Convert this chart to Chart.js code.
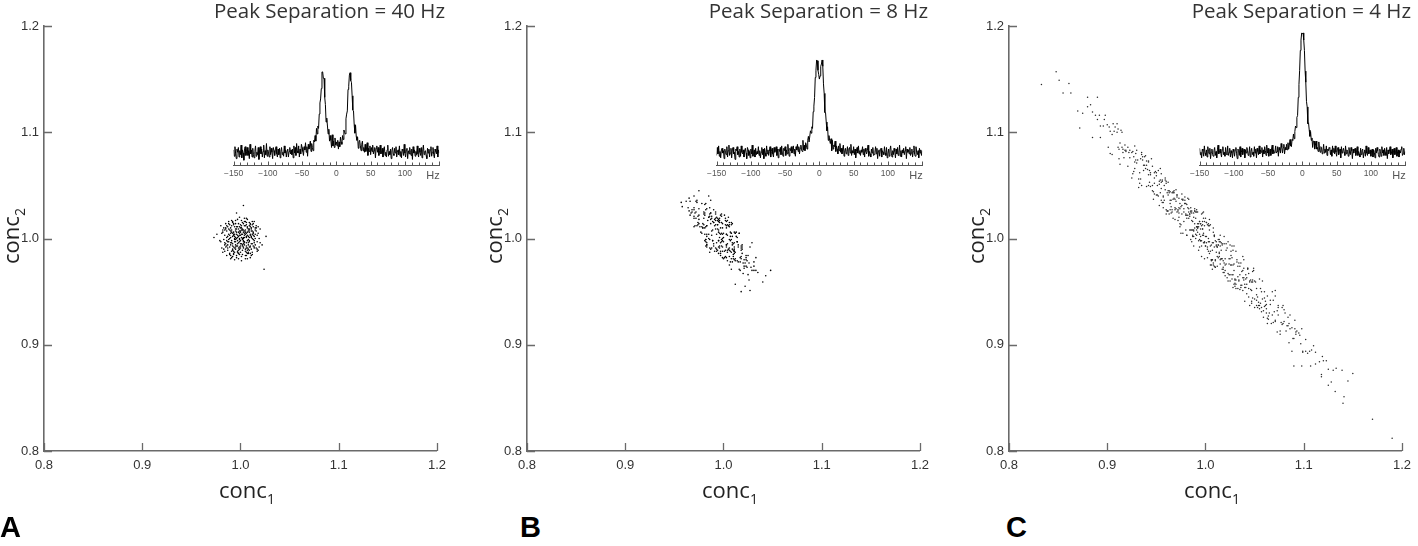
<!DOCTYPE html>
<html><head><meta charset="utf-8">
<script src="https://cdn.jsdelivr.net/npm/chart.js@4.4.1/dist/chart.umd.min.js"></script>
<style>
html,body{margin:0;padding:0;background:#fff}
body{width:1418px;height:546px;position:relative;overflow:hidden}
canvas{position:absolute}
.ttl{position:absolute;top:0;font-family:'Open Sans',sans-serif;font-size:20.5px;line-height:20px;color:#333;white-space:nowrap}
.axt{position:absolute;width:120px;text-align:center;font-family:'Open Sans',sans-serif;font-size:22px;color:#222;white-space:nowrap}
.sub{font-size:14px;position:relative;top:6px}
.let{position:absolute;top:513px;font-family:'Liberation Sans',Arial,sans-serif;font-weight:bold;font-size:29px;line-height:29px;color:#000}
</style>
</head><body>
<script>
// ---------------- data ----------------
const concTicks=[0.8,0.9,1.0,1.1,1.2];
const titles=['Peak Separation = 40 Hz','Peak Separation = 8 Hz','Peak Separation = 4 Hz'];
const panelLetters=['A','B','C'];

const conc1A=[1.003,0.992,1.012,0.998,1.006,0.985,1.001,1.009,0.995,0.989,
1.004,0.999,1.014,0.993,1.002,1.018,0.987,1.007,0.996,1.000,
1.010,0.991,1.005,0.983,1.011,0.997,1.008,0.994,1.003,0.988,
1.016,0.999,1.006,0.990,1.013,0.995,1.002,0.980,1.009,0.998,
1.004,0.986,1.007,0.992,1.012,1.000,0.996,1.019,0.989,1.005,
0.993,1.001,1.015,0.997,1.008,0.984,1.003,1.010,0.991,0.999,
1.006,0.987,1.011,0.995,1.002,0.982,1.014,0.998,1.007,0.990,
1.004,0.994,1.009,0.985,1.017,1.000,0.992,1.012,0.996,1.005,
0.988,1.003,1.008,0.999,0.981,1.013,0.994,1.001,1.010,0.991,
1.022,0.997,1.006,0.986,1.002,0.993,1.015,0.998,1.007,0.989,
1.004,0.995,1.011,0.984,1.009,1.000,0.992,1.018,0.996,1.003,
0.976,1.006,0.990,1.013,0.999,1.008,0.987,1.001,1.016,0.994,
1.005,0.997,1.010,0.983,1.002,0.991,1.014,0.995,1.007,0.988,
1.020,0.998,1.004,0.993,1.012,0.985,1.009,1.000,0.989,1.006,
0.996,1.003,1.017,0.992,1.001,0.986,1.011,0.994,1.005,0.980,
1.008,0.999,1.013,0.990,1.002,0.995,1.015,0.997,1.007,0.988,
1.010,0.993,1.004,0.984,1.019,1.000,0.991,1.006,0.998,1.012,
0.987,1.003,0.994,1.009,0.982,1.014,0.996,1.001,0.990,1.007,
1.005,0.985,1.011,0.999,1.016,0.992,1.002,0.989,1.008,0.997,
1.026,0.995,1.004,0.986,1.010,0.998,1.013,0.991,1.006,0.993,
1.003,0.988,1.009,1.000,0.994,1.017,0.981,1.005,0.997,1.011,
0.992,1.001,1.014,0.990,1.007,0.996,1.012,0.984,1.002,0.999,
1.008,0.987,1.006,0.995,1.015,0.991,1.003,0.998,1.010,0.986,
1.004,0.993,1.018,0.989,1.009,1.000,0.983,1.012,0.997,1.005,
0.994,1.013,0.999,1.007,0.988,1.002,0.992,1.011,0.979,1.004,
1.016,0.996,1.006,0.990,1.001,0.985,1.009,0.998,1.014,0.993,
1.003,0.991,1.020,0.995,1.008,0.987,1.000,1.010,0.982,1.005,
0.999,1.012,0.994,1.007,0.989,1.002,1.015,0.997,0.992,1.011,
0.986,1.006,1.001,0.996,1.017,0.990,1.004,0.993,1.009,0.998,
0.973,1.013,0.995,1.008,1.000,0.984,1.010,0.999,1.003,1.024];
const conc2A=[0.995,1.002,1.007,0.986,1.001,1.009,1.004,0.989,0.997,1.013,
1.016,0.992,0.998,1.006,0.999,1.005,0.994,1.010,0.982,1.003,
0.993,0.988,1.008,0.999,1.002,1.011,0.996,0.991,1.014,1.004,
0.991,1.000,0.984,0.996,1.011,1.007,0.994,0.997,1.006,0.989,
1.019,1.001,0.998,1.015,0.987,0.995,1.009,1.000,0.992,0.981,
1.003,1.012,1.004,0.993,0.990,1.008,1.001,1.013,0.998,0.985,
1.005,0.989,0.995,1.017,1.008,1.006,0.992,1.002,0.986,1.010,
0.997,0.980,1.009,0.995,1.003,0.991,1.005,1.016,1.000,0.988,
1.014,0.992,1.002,1.007,0.991,0.999,1.011,0.983,1.004,1.006,
0.994,1.003,0.987,1.012,1.009,0.986,1.008,0.996,1.018,1.000,
0.994,1.001,1.010,0.988,0.997,1.013,0.993,0.989,1.006,0.998,
1.004,1.015,0.984,1.005,0.990,1.007,1.002,0.979,1.012,0.999,
1.004,0.987,0.992,1.010,1.000,1.017,0.996,0.994,1.011,0.997,
1.009,0.991,1.003,1.014,0.985,0.992,1.001,0.998,1.008,0.993,
1.024,1.006,0.988,0.983,1.010,0.998,1.007,1.004,0.984,1.012,
0.999,1.005,1.014,0.994,0.989,1.009,0.994,1.001,0.991,1.016,
1.003,0.988,1.012,1.003,0.992,1.007,0.996,1.019,0.986,1.000,
0.991,1.008,0.997,1.015,0.987,1.002,1.011,0.995,1.005,0.981,
1.006,1.014,0.990,0.999,1.010,0.990,1.004,0.985,0.994,1.018,
1.002,0.992,1.001,1.007,0.986,1.009,1.006,0.982,0.996,1.013,
0.991,0.999,1.012,0.987,1.002,0.997,1.005,1.016,0.995,1.009,
0.989,1.008,0.991,1.001,1.003,0.984,1.013,0.996,0.993,1.020,
0.987,1.011,1.002,0.990,1.000,1.008,0.997,1.014,0.982,0.993,
1.007,1.004,1.011,0.986,0.998,1.010,0.990,1.004,0.988,1.012,
1.000,0.993,1.003,0.989,1.009,1.015,0.995,0.984,0.998,1.005,
1.007,0.993,1.013,0.981,1.001,1.010,0.992,1.006,1.016,0.985,
1.000,1.012,0.996,0.999,1.009,0.997,0.993,1.014,1.008,0.990,
1.011,0.995,0.987,1.006,1.003,0.985,1.010,0.998,1.016,1.001,
0.984,0.991,1.017,1.004,0.990,1.007,0.996,0.992,1.008,0.981,
1.001,1.003,1.014,0.986,1.006,0.994,1.011,0.997,1.031,0.971];

const conc1B=[1.006,0.979,1.021,1.003,1.005,0.970,1.003,1.011,0.996,0.968,
1.007,0.994,0.997,0.998,1.031,0.975,0.999,1.006,0.985,1.001,
0.995,1.014,0.995,0.988,0.972,1.019,0.983,0.996,1.022,1.002,
1.004,0.986,0.999,0.989,1.009,1.008,1.029,0.988,0.995,0.975,
0.995,1.003,0.997,1.017,0.990,1.002,0.986,0.966,1.010,1.008,
1.023,0.992,0.990,1.005,1.011,0.970,1.019,0.982,0.992,1.003,
1.005,1.004,0.970,1.018,0.983,1.004,1.008,0.981,0.999,0.998,
1.006,1.006,0.985,1.021,0.993,0.994,0.992,1.026,0.982,0.999,
0.995,1.006,0.995,1.003,0.970,1.014,1.009,0.982,1.028,0.973,
1.014,0.988,0.995,0.973,1.010,0.983,1.023,0.992,0.993,1.019,
0.975,1.009,1.006,1.002,0.991,1.024,0.986,0.986,0.999,1.012,
1.007,0.972,1.004,0.990,1.016,0.989,0.980,1.023,0.982,1.014,
0.983,1.007,1.031,0.983,1.011,0.980,1.008,0.996,0.995,0.970,
1.027,0.988,0.991,1.004,0.990,0.965,1.007,0.987,1.017,1.004,
0.997,0.987,0.998,0.996,1.015,0.987,0.993,0.997,1.015,0.974,
0.994,1.020,1.002,1.006,0.984,0.991,0.978,1.010,0.998,1.003,
1.016,0.999,0.981,0.997,0.998,1.011,0.973,0.997,0.986,1.023,
0.987,1.013,1.011,0.987,0.987,0.992,1.006,0.982,1.010,0.989,
1.008,0.979,1.026,0.985,1.009,1.005,0.977,1.008,0.957,1.029,
0.982,1.015,0.974,1.000,1.019,0.981,1.016,0.993,1.031,0.980,
1.009,0.971,1.011,0.967,0.996,1.025,0.983,1.011,1.003,0.998,
0.979,1.018,0.983,0.994,1.007,0.964,1.018,0.982,1.014,0.998,
1.033,0.989,1.003,0.974,1.008,1.004,0.972,1.009,0.978,1.018,
0.995,0.981,1.018,0.983,1.012,0.978,1.033,0.994,1.000,0.985,
0.986,1.000,1.000,1.024,0.981,1.013,0.968,0.996,1.001,1.012,
0.997,0.996,0.983,1.012,1.002,0.992,0.988,1.020,0.975,1.010,
0.990,1.025,0.981,1.012,0.971,1.011,1.003,0.976,1.017,0.999,
1.011,0.992,1.001,0.980,0.993,0.994,1.021,1.008,0.965,0.999,
0.962,0.975,0.985,0.958,0.970,1.048,1.040,1.027,1.018,1.022,1.043,1.035,0.966,1.012];
const conc2B=[0.999,1.010,0.980,1.012,0.990,1.011,1.004,0.988,1.015,1.025,
0.978,1.009,1.022,0.993,0.978,1.022,0.988,1.011,1.020,0.982,
1.006,0.979,1.016,0.991,1.035,0.994,1.012,0.993,0.977,1.019,
0.987,1.029,0.998,1.016,0.978,1.015,0.970,1.021,0.986,1.028,
1.016,0.982,1.010,0.978,1.027,0.989,0.991,1.035,0.983,1.005,
0.974,1.017,0.993,1.020,0.992,1.019,0.986,0.993,1.023,0.992,
1.012,0.989,1.029,0.993,1.002,1.003,0.971,1.022,0.992,1.021,
0.983,1.015,1.020,0.974,1.020,0.989,1.009,0.961,1.027,1.000,
1.008,0.975,1.018,0.994,1.021,0.997,1.014,1.011,0.973,1.012,
1.001,1.007,0.992,1.034,0.989,0.994,0.982,1.025,0.996,0.990,
1.018,1.002,1.013,0.983,1.012,0.973,1.021,0.987,1.014,0.979,
1.002,1.025,0.979,1.015,1.005,0.998,1.019,0.980,0.999,0.997,
1.012,1.006,0.970,0.996,0.996,1.025,0.981,1.019,0.998,1.027,
0.992,1.003,1.018,0.995,0.995,1.038,0.988,1.024,0.970,1.013,
0.986,1.018,0.999,1.017,0.978,1.036,0.988,1.004,0.992,1.015,
1.013,0.967,1.013,0.989,1.017,0.988,1.033,0.981,1.023,0.994,
0.971,1.004,1.024,0.984,1.015,0.988,1.036,0.996,0.999,0.984,
1.014,1.006,0.980,1.024,0.990,1.013,0.991,1.033,0.985,0.998,
1.005,1.014,0.977,1.004,0.990,1.012,1.006,0.999,1.034,0.996,
0.997,0.994,1.021,1.001,0.992,1.004,1.005,1.004,0.974,1.013,
0.994,1.012,1.006,1.024,1.001,0.984,1.004,0.988,1.016,0.997,
1.010,0.989,0.992,1.019,0.998,1.029,0.983,0.999,0.997,1.005,
0.982,1.008,1.004,1.013,0.987,1.017,1.019,0.996,1.005,0.991,
0.998,1.032,0.981,0.994,1.005,1.011,0.970,1.017,0.997,1.000,
1.023,0.981,1.005,0.979,1.010,1.002,1.027,0.991,1.022,0.987,
0.988,1.005,1.028,0.981,1.017,0.991,1.019,0.977,1.014,0.995,
1.015,0.966,0.998,1.005,1.024,0.990,1.010,1.011,0.982,1.010,
0.986,1.019,0.988,1.023,0.990,1.013,0.972,1.013,1.026,0.982,
1.035,1.045,1.040,1.030,1.040,0.970,0.959,0.951,0.950,0.955,0.965,0.968,1.022,0.957];

const conc1C=[1.012,0.955,1.078,0.992,1.033,0.933,1.004,1.051,0.978,0.910,
1.027,0.986,1.060,0.962,1.002,1.095,0.945,1.019,0.997,0.929,
1.041,0.971,1.008,0.896,1.066,0.989,1.023,0.952,1.085,0.994,
0.967,1.014,0.918,1.047,1.000,0.981,1.112,0.940,1.030,0.998,
1.057,0.959,1.009,0.975,1.073,0.993,1.036,0.880,1.018,0.948,
0.984,1.064,0.964,1.003,1.089,0.926,1.025,0.991,1.044,0.972,
1.006,0.937,1.099,0.987,1.038,0.956,1.015,0.912,1.070,0.999,
0.980,1.052,0.995,1.031,0.903,1.080,0.969,1.010,0.943,1.048,
1.001,0.976,1.067,0.931,1.021,0.988,1.108,0.960,1.034,0.916,
1.059,0.996,1.016,0.950,1.076,0.965,1.005,0.985,1.093,0.935,
1.028,0.973,1.045,0.921,1.011,0.990,1.055,0.954,1.132,0.982,
0.998,1.039,0.942,1.020,0.890,1.062,0.970,1.007,0.963,1.083,
1.013,0.947,1.029,0.994,1.071,0.913,1.042,0.979,1.003,0.957,
1.102,0.984,1.049,0.932,1.024,0.968,1.008,0.925,1.061,0.988,
1.035,0.999,0.953,1.088,0.977,1.017,0.907,1.054,0.992,1.026,
0.961,1.074,0.986,1.000,0.939,1.043,0.972,1.116,0.995,1.032,
0.923,1.010,1.058,0.966,1.019,0.951,1.091,0.981,1.006,0.900,
1.046,0.991,1.025,0.944,1.069,0.974,1.014,0.958,1.082,0.997,
0.936,1.037,0.989,1.052,0.914,1.022,0.963,1.004,1.125,0.946,
1.017,0.970,1.063,0.985,1.040,0.928,1.009,0.993,1.048,0.954,
1.086,0.976,1.031,0.941,1.002,0.885,1.053,0.982,1.027,0.996,
0.964,1.068,0.990,1.044,0.919,1.015,1.096,0.971,1.007,0.948,
1.021,0.934,1.034,0.998,1.079,0.960,1.012,0.905,1.057,0.987,
0.977,1.005,1.106,0.955,1.030,0.992,1.065,0.930,1.018,0.967,
1.050,0.983,1.001,0.911,1.038,0.975,1.074,0.996,1.023,0.942,
1.011,0.957,1.084,0.979,1.042,0.938,1.006,0.988,1.139,0.965,
1.029,0.994,1.056,0.922,1.015,0.969,1.047,0.950,1.000,1.092,
0.980,1.036,0.927,1.020,1.062,0.985,1.033,0.902,1.009,0.959,
1.071,0.973,1.004,0.946,1.026,0.991,1.119,0.962,1.041,0.935,
0.997,1.055,0.968,1.013,0.915,1.048,0.981,1.008,0.940,1.077,
1.024,0.953,1.016,0.989,1.099,0.974,1.039,0.928,1.003,0.986,
1.060,0.961,1.010,0.893,1.045,0.995,1.028,0.947,1.090,0.978,
0.833,0.848,0.851,0.855,0.861,0.863,0.870,0.872,0.883,0.885,
0.888,0.890,0.892,0.898,1.190,1.170,1.140,1.141,1.150,1.130,
1.125,1.120,1.118,1.090,1.098,
0.969,1.018,0.928,1.044,0.995,1.063,0.983,1.009,0.952,1.027,
1.085,0.961,1.002,0.939,1.036,0.988,1.071,0.974,1.014,0.910,
1.005,0.946,1.040,0.992,0.967,1.097,0.980,1.058,0.997,0.957,
1.022,0.933,1.011,0.985,1.049,0.919,1.030,0.999,0.963,1.066,
0.990,1.079,0.955,1.007,0.976,1.052,0.942,1.016,1.104,0.971,
1.038,0.994,0.923,1.025,0.986,1.060,0.960,1.003,0.908,1.047,
0.981,1.013,0.950,1.088,0.998,1.031,0.935,1.020,0.991,1.055,
1.001,0.966,1.074,0.977,1.042,0.989,0.916,1.035,0.954,1.010,
1.068,0.972,1.006,0.944,1.017,0.996,1.092,0.959,1.028,0.930,
0.987,1.050,0.969,1.008,0.901,1.039,0.982,1.062,0.993,1.023,
1.045,0.936,0.999,1.015,0.973,1.081,0.948,1.004,1.033,0.984,
0.917,1.026,0.991,1.057,0.962,1.012,0.979,1.073,0.956,1.000,
1.019,0.925,1.037,0.988,1.064,0.995,0.970,1.048,0.940,1.007,
0.965,1.110,0.997,1.029,0.951,1.014,0.913,1.041,0.980,1.053,
1.009,0.958,1.024,0.932,1.003,1.078,0.985,0.944,1.031,0.992,
1.059,0.978,1.016,0.964,1.091,0.989,0.926,1.020,0.999,1.043,
0.974,1.006,0.942,1.034,0.987,1.069,0.955,1.011,0.905,1.027,
1.040,0.983,0.996,1.052,0.968,1.018,0.937,1.084,0.990,1.002,
0.949,1.030,0.993,1.061,0.976,1.010,0.962,1.047,0.929,1.015,
1.076,0.997,0.956,1.021,0.984,1.035,0.911,1.005,1.056,0.971,
0.992,1.043,0.934,1.013,1.028,0.948,1.001,1.098,0.966,1.019,
1.032,0.988,1.071,0.960,1.007,0.921,1.025,0.979,1.050,0.998,
0.943,1.017,0.973,1.039,0.994,1.086,0.953,1.012,0.983,1.063,
1.004,0.964,0.918,1.026,0.986,1.046,0.991,0.938,1.038,0.975,
1.054,0.981,1.008,0.957,1.080,0.967,1.014,0.995,1.029,0.927,
0.875,0.880,0.893,0.897,0.903,0.906,0.912,0.915,1.102,1.107,1.112,1.118,1.123,1.128,1.133,1.145];
const conc2C=[0.992,1.036,0.935,1.006,0.974,1.052,0.997,0.959,1.016,1.108,
0.962,1.017,0.936,1.053,0.990,0.911,1.075,0.968,1.003,1.080,
0.954,1.041,0.975,1.106,0.942,1.010,0.967,1.064,0.920,0.999,
1.044,0.983,1.088,0.939,1.019,1.019,0.882,1.069,0.958,1.005,
0.935,1.055,0.992,1.005,0.932,0.998,0.977,1.124,0.979,1.062,
1.023,0.924,1.036,1.014,0.906,1.082,0.960,1.011,0.967,1.027,
0.980,1.069,0.894,1.016,0.983,1.034,0.997,1.084,0.931,1.016,
1.022,0.942,1.014,0.953,1.101,0.933,1.029,0.979,1.064,0.944,
1.015,1.023,0.920,1.074,0.989,0.993,0.895,1.054,0.961,1.084,
0.932,1.012,0.981,1.062,0.913,1.036,1.013,1.008,0.913,1.050,
0.975,1.038,0.937,1.086,0.987,1.019,0.937,1.066,0.856,1.022,
0.996,0.961,1.072,0.970,1.112,0.934,1.046,0.980,1.045,0.918,
0.999,1.037,0.976,1.016,0.922,1.090,0.957,1.036,0.988,1.040,
0.894,1.023,0.970,1.056,0.976,1.043,0.977,1.081,0.941,1.002,
0.974,0.996,1.051,0.894,1.036,0.981,1.101,0.940,1.025,0.975,
1.026,0.928,1.024,0.993,1.066,0.972,1.017,0.884,1.002,0.980,
1.083,0.973,0.943,1.043,0.977,1.041,0.923,1.022,0.980,1.107,
0.952,1.027,0.966,1.060,0.942,1.014,0.986,1.050,0.913,1.016,
1.074,0.956,1.014,0.947,1.102,0.963,1.043,0.986,0.877,1.050,
0.971,1.035,0.946,1.029,0.954,1.072,1.003,0.989,0.959,1.043,
0.915,1.037,0.961,1.065,0.982,1.119,0.945,1.029,0.966,1.023,
1.044,0.928,1.025,0.945,1.083,0.976,0.909,1.039,0.980,1.052,
0.976,1.075,0.960,1.019,0.920,1.052,0.974,1.098,0.950,1.003,
1.037,0.993,0.894,1.053,0.955,1.014,0.930,1.083,0.973,1.037,
0.943,1.028,1.015,1.086,0.963,1.013,0.935,0.998,0.997,1.050,
0.994,1.029,0.918,1.033,0.948,1.069,0.994,1.008,0.876,1.024,
0.970,1.016,0.939,1.081,1.003,1.018,0.959,1.059,0.993,0.910,
1.033,0.956,1.077,0.965,0.938,1.026,0.964,1.105,0.974,1.046,
0.923,1.029,1.008,1.045,0.988,1.008,0.889,1.026,0.962,1.081,
1.013,0.934,1.038,0.982,1.086,0.961,1.003,0.996,1.073,0.921,
0.966,1.054,0.981,1.026,0.893,1.028,0.972,1.066,0.997,1.026,
0.944,1.026,0.998,1.106,0.960,0.998,0.989,1.044,0.906,1.028,
1.145,1.157,1.149,1.137,1.146,1.137,1.120,1.104,1.126,1.095,
1.116,1.133,1.116,1.116,0.812,0.830,0.845,0.851,0.873,0.876,
0.862,0.885,0.870,0.880,0.880,
1.037,0.971,1.087,0.953,1.014,0.920,1.019,1.003,1.040,0.993,
0.902,1.043,0.992,1.078,0.954,1.020,0.951,1.011,0.987,1.100,
0.988,1.068,0.941,1.011,1.043,0.901,1.008,0.960,1.009,1.034,
0.991,1.062,0.997,0.999,0.972,1.082,0.962,1.012,1.023,0.938,
1.000,0.937,1.047,0.971,1.031,0.937,1.073,0.989,0.892,1.041,
0.970,0.992,1.076,0.994,1.008,0.950,1.023,1.000,1.105,0.951,
1.003,0.994,1.041,0.916,1.025,0.957,1.079,0.975,1.011,0.962,
1.002,1.027,0.937,1.005,0.963,1.026,1.081,0.952,1.055,0.980,
0.950,1.026,0.979,1.062,0.995,0.983,0.912,1.057,0.966,1.071,
1.002,0.960,1.027,1.006,1.086,0.963,1.038,0.930,1.014,0.960,
0.959,1.077,0.981,0.993,1.024,0.930,1.042,1.018,0.953,1.021,
1.076,0.975,1.025,0.931,1.041,0.983,1.039,0.912,1.054,1.002,
0.995,1.057,0.969,1.024,0.927,1.009,1.028,0.969,1.049,0.989,
1.030,0.899,1.024,0.957,1.050,0.999,1.070,0.966,1.023,0.935,
1.002,1.036,0.981,1.048,1.012,0.919,1.025,1.049,0.988,1.010,
0.926,1.025,0.996,1.027,0.915,1.028,1.061,0.981,0.997,0.971,
1.033,0.975,1.060,0.977,1.008,0.921,1.061,0.993,1.079,0.982,
0.957,1.037,0.993,0.953,1.045,0.968,1.064,0.926,1.004,1.013,
1.063,0.961,1.011,0.937,1.042,0.973,1.045,0.941,1.074,0.980,
0.910,1.009,1.055,0.995,1.008,0.966,1.103,0.975,0.953,1.025,
1.010,0.972,1.056,0.994,0.954,1.057,0.996,0.915,1.025,1.002,
0.978,1.007,0.946,1.027,0.996,1.068,0.981,1.033,0.935,1.003,
1.053,0.994,1.020,0.980,1.004,0.928,1.031,0.992,1.025,0.925,
1.012,1.033,1.083,0.984,0.997,0.961,1.003,1.077,0.951,1.030,
0.937,1.032,1.010,1.039,0.922,1.019,0.997,0.998,0.993,1.063,
1.118,1.133,1.095,1.112,1.080,1.108,1.075,1.100,0.905,0.880,0.893,0.872,0.885,0.865,0.878,0.866];

const freqHz=[-150,-149,-148,-147,-146,-145,-144,-143,-142,-141,
-140,-139,-138,-137,-136,-135,-134,-133,-132,-131,
-130,-129,-128,-127,-126,-125,-124,-123,-122,-121,
-120,-119,-118,-117,-116,-115,-114,-113,-112,-111,
-110,-109,-108,-107,-106,-105,-104,-103,-102,-101,
-100,-99,-98,-97,-96,-95,-94,-93,-92,-91,
-90,-89,-88,-87,-86,-85,-84,-83,-82,-81,
-80,-79,-78,-77,-76,-75,-74,-73,-72,-71,
-70,-69,-68,-67,-66,-65,-64,-63,-62,-61,
-60,-59,-58,-57,-56,-55,-54,-53,-52,-51,
-50,-49,-48,-47,-46,-45,-44,-43,-42,-41,
-40,-39,-38,-37,-36,-35,-34,-33,-32,-31,
-30,-29,-28,-27,-26,-25,-24,-23,-22,-21,
-20,-19,-18,-17,-16,-15,-14,-13,-12,-11,
-10,-9,-8,-7,-6,-5,-4,-3,-2,-1,
0,1,2,3,4,5,6,7,8,9,
10,11,12,13,14,15,16,17,18,19,
20,21,22,23,24,25,26,27,28,29,
30,31,32,33,34,35,36,37,38,39,
40,41,42,43,44,45,46,47,48,49,
50,51,52,53,54,55,56,57,58,59,
60,61,62,63,64,65,66,67,68,69,
70,71,72,73,74,75,76,77,78,79,
80,81,82,83,84,85,86,87,88,89,
90,91,92,93,94,95,96,97,98,99,
100,101,102,103,104,105,106,107,108,109,
110,111,112,113,114,115,116,117,118,119,
120,121,122,123,124,125,126,127,128,129,
130,131,132,133,134,135,136,137,138,139,
140,141,142,143,144,145,146,147,148,149,150];
const specA=[0.03,-0.05,0.07,-0.02,-0.08,0.04,0.00,0.06,-0.06,0.02,
-0.03,0.09,-0.07,0.03,-0.01,-0.10,0.05,0.07,-0.04,0.01,
0.06,-0.04,0.02,-0.08,0.10,-0.02,0.03,-0.06,0.05,-0.03,
-0.07,0.01,0.08,-0.05,0.00,-0.03,0.06,-0.09,0.03,0.07,
-0.02,0.04,-0.06,0.01,0.09,-0.07,0.02,-0.03,0.11,-0.05,
0.03,-0.01,-0.06,0.07,-0.03,0.05,0.00,-0.08,0.06,0.02,
-0.04,0.03,0.07,-0.02,-0.06,0.04,-0.03,0.05,-0.07,0.01,
0.06,-0.03,0.00,-0.05,0.08,-0.01,0.03,-0.06,0.02,0.04,
-0.06,0.01,0.06,-0.02,0.03,-0.03,0.04,-0.07,0.08,-0.01,
0.06,-0.04,0.11,0.02,-0.01,0.08,-0.06,0.04,-0.02,0.10,
0.06,0.01,-0.04,0.07,0.03,0.12,0.00,0.07,-0.05,0.10,
0.04,0.08,0.14,0.01,0.11,0.06,0.02,0.15,0.13,0.21,
0.14,0.30,0.23,0.33,0.30,0.48,0.62,0.67,0.80,1.01,
1.01,0.93,0.93,0.69,0.60,0.38,0.43,0.33,0.23,0.29,
0.14,0.21,0.15,0.06,0.22,0.08,0.14,0.06,0.18,0.09,
0.13,0.08,0.15,0.04,0.13,0.07,0.19,0.13,0.10,0.21,
0.16,0.28,0.25,0.23,0.42,0.48,0.52,0.79,0.83,0.97,
1.00,0.90,0.88,0.71,0.53,0.52,0.35,0.24,0.34,0.20,
0.15,0.19,0.05,0.13,0.15,0.08,0.02,0.10,0.14,0.02,
0.06,0.00,0.10,0.01,0.04,0.12,-0.04,0.05,0.01,0.08,
-0.03,0.06,0.01,0.09,-0.02,0.02,0.06,-0.07,0.05,0.08,
0.00,0.06,-0.04,0.02,0.09,-0.02,0.00,0.05,-0.06,0.03,
0.07,-0.04,0.00,-0.06,0.03,0.09,-0.05,0.01,-0.03,0.04,
-0.08,0.02,0.06,-0.02,-0.04,0.05,-0.01,0.07,-0.06,0.00,
0.03,-0.03,0.08,-0.05,0.01,-0.07,0.04,0.02,-0.04,0.10,
-0.01,-0.06,0.03,0.05,-0.08,0.02,-0.02,0.06,0.00,-0.04,
0.04,-0.09,0.07,-0.01,0.03,-0.05,0.01,-0.03,0.08,-0.02,
-0.06,0.05,0.00,-0.04,0.06,-0.07,0.03,0.09,-0.03,0.01,
0.02,-0.04,-0.08,0.05,-0.01,0.04,-0.06,0.03,0.07,-0.05,
0.00,0.06,-0.03,-0.07,0.04,0.01,-0.02,0.08,-0.06,0.03,-0.01];
const specB=[-0.04,0.06,-0.02,0.08,-0.05,0.01,-0.07,0.03,0.05,-0.01,
0.02,-0.08,0.04,0.00,-0.03,0.07,-0.06,0.02,0.09,-0.04,
-0.01,0.05,-0.07,0.03,0.06,-0.02,0.00,-0.09,0.04,0.02,
0.07,-0.03,0.01,-0.06,0.04,-0.05,0.08,0.00,-0.02,0.03,
-0.06,0.02,0.05,-0.01,-0.08,0.06,0.03,-0.04,0.01,-0.07,
0.04,-0.02,0.09,-0.05,0.00,0.03,-0.06,0.05,-0.03,0.01,
-0.02,0.07,-0.04,0.02,-0.07,0.00,0.06,-0.03,0.04,-0.08,
0.05,-0.01,-0.05,0.08,-0.02,0.03,-0.04,0.01,0.07,-0.06,
0.01,0.05,-0.02,-0.06,0.06,0.00,0.03,0.07,-0.04,0.04,
-0.07,0.04,0.01,0.06,-0.03,0.08,-0.01,-0.05,0.05,0.02,
0.07,-0.04,0.03,-0.02,0.10,0.01,-0.05,0.05,0.02,0.07,
-0.01,0.03,0.08,-0.02,0.04,-0.05,0.07,0.03,0.10,0.01,
0.07,-0.02,0.05,0.09,0.03,0.01,0.15,0.03,0.09,0.02,
0.12,0.09,0.04,0.15,0.20,0.13,0.13,0.27,0.24,0.32,
0.30,0.51,0.58,0.69,0.94,1.03,1.16,1.15,1.03,0.98,
0.92,0.96,1.08,1.11,1.16,1.08,0.86,0.74,0.50,0.50,
0.38,0.27,0.32,0.15,0.21,0.15,0.11,0.17,0.02,0.15,
0.04,0.09,0.07,0.14,0.01,0.08,0.04,-0.02,0.08,0.02,
0.11,0.00,0.05,-0.02,0.04,0.09,-0.05,0.02,0.05,-0.02,
0.01,0.07,-0.04,0.04,0.06,-0.01,0.10,-0.04,0.02,-0.01,
0.07,-0.03,0.04,-0.07,0.01,0.06,-0.01,0.08,-0.02,0.02,
-0.04,0.03,0.00,0.07,-0.03,0.04,-0.06,0.05,0.01,-0.02,
0.02,0.09,-0.05,0.01,-0.02,-0.06,0.04,-0.01,0.06,-0.04,
-0.03,0.00,0.07,-0.02,0.05,-0.08,0.01,0.03,-0.05,0.04,
0.05,-0.06,0.02,0.00,-0.03,0.07,-0.01,-0.04,0.06,-0.07,
-0.02,0.04,-0.05,0.03,0.08,-0.01,-0.06,0.02,-0.03,0.05,
0.01,-0.07,0.04,-0.02,0.06,-0.04,0.00,0.09,-0.05,0.02,
-0.06,0.03,-0.01,0.05,-0.03,0.02,0.07,-0.08,0.04,0.00,
0.03,-0.02,0.06,-0.04,-0.01,0.04,-0.06,0.01,0.08,-0.03,
-0.05,0.07,0.00,-0.03,0.02,-0.07,0.05,-0.01,0.03,-0.04,0.02];
const specC=[0.05,-0.03,0.00,-0.07,0.04,0.02,-0.05,0.08,-0.01,-0.04,
0.03,-0.06,0.07,0.01,-0.02,0.05,-0.08,0.00,0.04,-0.03,
-0.05,0.02,0.06,-0.04,0.01,-0.07,0.03,0.09,-0.02,0.00,
0.04,-0.01,-0.06,0.03,0.07,-0.03,0.00,-0.05,0.06,-0.02,
-0.03,0.08,-0.04,0.00,0.05,-0.06,0.02,-0.01,-0.07,0.04,
0.01,-0.05,0.03,0.06,-0.02,-0.08,0.04,0.02,-0.04,0.07,
-0.06,0.00,0.05,-0.03,0.02,0.04,-0.07,0.03,-0.01,0.06,
0.02,-0.04,-0.02,0.07,-0.06,0.01,0.05,-0.03,0.00,-0.05,
0.07,-0.01,0.04,-0.07,0.05,0.01,-0.03,0.08,-0.02,0.03,
0.00,0.06,-0.06,0.03,-0.02,0.07,0.02,-0.04,0.09,-0.01,
0.05,-0.05,0.01,0.04,-0.04,0.04,0.09,-0.02,0.03,-0.01,
0.00,0.08,-0.01,0.01,0.07,-0.05,0.06,0.03,-0.01,0.11,
0.06,-0.01,0.06,0.10,-0.02,0.06,0.03,0.10,0.03,0.12,
0.04,0.09,0.16,0.08,0.07,0.16,0.15,0.23,0.17,0.26,
0.33,0.31,0.44,0.46,0.69,0.85,1.03,1.28,1.41,1.50,
1.49,1.50,1.41,1.28,1.02,0.88,0.64,0.57,0.36,0.37,
0.28,0.20,0.26,0.15,0.18,0.06,0.14,0.14,0.04,0.09,
0.14,0.04,0.06,0.01,0.13,0.04,0.00,0.07,0.06,-0.02,
0.01,0.10,-0.01,0.04,0.00,0.08,-0.04,0.04,0.02,0.06,
0.05,-0.03,0.03,-0.05,0.08,0.00,0.05,-0.02,0.08,0.00,
-0.05,0.03,0.06,-0.03,0.01,0.04,-0.07,0.07,-0.01,0.02,
0.05,0.00,-0.04,0.08,-0.02,0.03,0.01,-0.05,0.06,-0.01,
-0.03,0.06,0.02,-0.08,0.04,-0.01,0.03,0.05,-0.04,0.00,
0.07,-0.04,0.01,-0.02,-0.06,0.05,-0.03,0.02,0.04,-0.07,
0.00,0.03,-0.05,0.08,-0.01,-0.04,0.06,-0.02,0.01,0.03,
-0.05,0.02,0.04,-0.06,0.03,0.00,-0.07,0.05,-0.01,0.06,
0.02,-0.03,-0.06,0.04,0.01,-0.05,0.07,-0.01,0.03,-0.04,
0.05,0.00,-0.04,0.06,-0.08,0.03,-0.02,0.01,0.07,-0.03,
-0.01,0.04,-0.07,0.02,0.05,-0.03,0.00,0.06,-0.05,0.01,
0.03,-0.06,0.02,-0.01,0.04,0.07,-0.04,-0.02,0.05,-0.03,0.01];

// ---------------- layout ----------------
const layout=[
 {L:44,  inset:230,  right:445,  letter:0},
 {L:527, inset:713,  right:928,  letter:520},
 {L:1009,inset:1196, right:1411, letter:1006}
];
const scatterSeries=[[conc1A,conc2A,'#000',0.8],[conc1B,conc2B,'#000',0.8],[conc1C,conc2C,'#2a2a2a',0.75]];
const spectra=[specA,specB,specC];

Chart.defaults.font.family="'Liberation Sans', Arial, sans-serif";
Chart.defaults.color='#333';

const inwardTicks={
 id:'inwardTicks',
 afterDatasetsDraw(chart,args,o){
  const ctx=chart.ctx, a=chart.chartArea;
  ctx.save(); ctx.strokeStyle=o.color; ctx.lineWidth=o.width; ctx.beginPath();
  const xs=chart.scales.x;
  xs.ticks.forEach(t=>{
    const p=Math.round(xs.getPixelForValue(t.value))+0.5;
    const len=(o.majorStep && Math.abs(t.value % o.majorStep)<1e-6)?o.majorLen:o.len;
    ctx.moveTo(p,a.bottom); ctx.lineTo(p,a.bottom-len);
  });
  const ys=chart.scales.y;
  if(ys && ys.options.display!==false){
   ys.ticks.forEach(t=>{
    const p=Math.round(ys.getPixelForValue(t.value))+0.5;
    ctx.moveTo(a.left,p); ctx.lineTo(a.left+o.len,p);
   });
  }
  ctx.stroke(); ctx.restore();
 }
};
const fmt1=v=>(Math.round(v*10)/10).toFixed(1);

layout.forEach((p,k)=>{
 const [xs,ys,col,rad]=scatterSeries[k];
 const cv=document.createElement('canvas');
 cv.width=453; cv.height=480; cv.style.left=(p.L-44)+'px'; cv.style.top='0px';
 document.body.appendChild(cv);
 new Chart(cv,{
  type:'scatter',
  data:{datasets:[{data:xs.map((x,i)=>({x:x,y:ys[i]})),pointRadius:rad,pointHoverRadius:rad,
        pointBackgroundColor:col,pointBorderWidth:0}]},
  options:{responsive:false,animation:false,events:[],devicePixelRatio:1,
   layout:{padding:{top:26,right:8,left:0,bottom:0}},
   plugins:{legend:{display:false},tooltip:{enabled:false},
            inwardTicks:{color:'#6a6a6a',width:1.3,len:8,majorLen:8,majorStep:0}},
   scales:{
    x:{type:'linear',min:concTicks[0],max:concTicks[concTicks.length-1],afterFit(s){s.height=29;},
       grid:{display:true,drawOnChartArea:false,drawTicks:false},
       border:{display:true,color:'#6a6a6a',width:1.6},
       ticks:{stepSize:0.1,padding:7,autoSkip:false,maxRotation:0,font:{size:13},color:'#333',callback:v=>fmt1(v)}},
    y:{type:'linear',min:concTicks[0],max:concTicks[concTicks.length-1],afterFit(s){s.width=44;},
       grid:{display:true,drawOnChartArea:false,drawTicks:false},
       border:{display:true,color:'#6a6a6a',width:1.6},
       ticks:{stepSize:0.1,padding:5,autoSkip:false,font:{size:13},color:'#333',callback:v=>fmt1(v)}}
   }
  },
  plugins:[inwardTicks]
 });

 const ic=document.createElement('canvas');
 ic.width=236; ic.height=172; ic.style.left=(p.inset-10)+'px'; ic.style.top='15px';
 document.body.appendChild(ic);
 const sp=spectra[k];
 new Chart(ic,{
  type:'line',
  data:{datasets:[{data:freqHz.map((f,i)=>({x:f,y:sp[i]})),borderColor:'#000',borderWidth:1,
        pointRadius:0,tension:0,fill:false}]},
  options:{responsive:false,animation:false,events:[],devicePixelRatio:1,
   layout:{padding:{left:10,right:10,top:6,bottom:0}},
   plugins:{legend:{display:false},tooltip:{enabled:false},
            inwardTicks:{color:'#555',width:1,len:2.5,majorLen:3.5,majorStep:50}},
   scales:{
    x:{type:'linear',min:-150,max:150,afterFit(s){s.height=22;},
       grid:{display:true,drawOnChartArea:false,drawTicks:false},
       border:{display:true,color:'#555',width:1},
       ticks:{stepSize:10,autoSkip:false,maxRotation:0,padding:4,color:'#555',
          font:c=>({size:(c.tick&&c.tick.value===150)?11:8.5}),
          callback:v=>v===150?'Hz    ':(v%50===0?(v<0?'\u2212'+(-v):String(v)):'')}},
    y:{type:'linear',min:-0.16,max:1.65,display:false}
   }
  },
  plugins:[inwardTicks]
 });

 const t=document.createElement('div'); t.className='ttl';
 t.style.right=(1418-p.right)+'px'; t.textContent=titles[k]; document.body.appendChild(t);

 const xt=document.createElement('div'); xt.className='axt';
 xt.style.left=(p.L+203-60)+'px'; xt.style.top='478px'; xt.style.lineHeight='22px';
 xt.innerHTML='conc<span class="sub">1</span>'; document.body.appendChild(xt);

 const yt=document.createElement('div'); yt.className='axt';
 yt.style.left=(p.L-34-60)+'px'; yt.style.top=(236-15)+'px'; yt.style.height='30px'; yt.style.lineHeight='30px';
 yt.style.transform='rotate(-90deg)';
 yt.innerHTML='conc<span class="sub">2</span>'; document.body.appendChild(yt);

 const lt=document.createElement('div'); lt.className='let';
 lt.style.left=p.letter+'px'; lt.textContent=panelLetters[k]; document.body.appendChild(lt);
});
</script>
</body></html>
